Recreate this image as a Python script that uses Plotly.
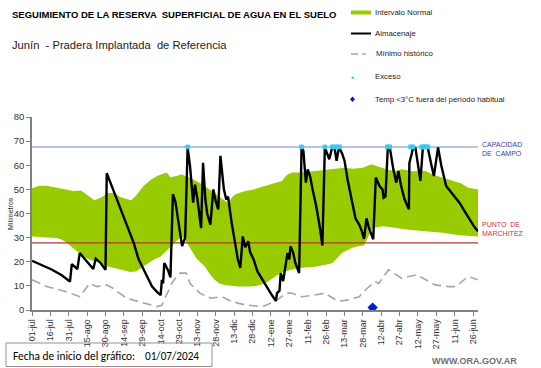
import plotly.graph_objects as go

# ---------------- DATA ----------------
tick_days = [0, 15, 30, 45, 60, 75, 90, 105, 120, 135, 150, 165, 180, 195, 210, 225,
             240, 255, 270, 285, 300, 315, 330, 345, 360]
tick_labels = ["01-jul", "16-jul", "31-jul", "15-ago", "30-ago", "14-sep", "29-sep", "14-oct",
               "29-oct", "13-nov", "28-nov", "13-dic", "28-dic", "12-ene", "27-ene", "11-feb",
               "26-feb", "13-mar", "28-mar", "12-abr", "27-abr", "12-may", "27-may", "11-jun", "26-jun"]

band_upper_days = [0, 6, 12, 20, 28, 34, 40, 46, 51, 56, 62, 67, 72, 77, 81, 85, 91, 97, 103,
                   110, 113, 118, 122, 130, 136, 141, 146, 152, 156, 160, 163, 166, 174, 181,
                   190, 198, 204, 208, 212, 220, 231, 238, 245, 255, 262, 270, 277, 285, 291,
                   297, 302, 310, 321, 328, 335, 340, 345, 350, 356, 364]
band_upper_vals = [50.5, 51.5, 51.5, 50.8, 50.0, 49.3, 49.5, 47.5, 45.5, 46.5, 48.5, 48.5, 46.8,
                   46.0, 45.5, 47.5, 51.4, 54.0, 55.8, 57.0, 55.0, 55.5, 56.3, 54.5, 53.0, 51.4,
                   49.5, 47.2, 46.0, 44.4, 46.5, 48.0, 49.3, 50.0, 51.4, 52.5, 53.5, 56.0, 57.0,
                   57.0, 57.6, 58.0, 58.3, 59.0, 58.5, 59.0, 60.4, 59.0, 58.0, 57.6, 58.3, 57.5,
                   57.6, 56.0, 54.9, 54.0, 53.5, 52.5, 50.7, 50.0]
band_lower_days = [0, 10, 20, 24, 28, 32, 36, 40, 46, 51, 56, 62, 68, 73, 80, 85, 89, 95, 100,
                   105, 109, 113, 118, 122, 125, 127, 131, 134, 141, 145, 149, 153, 157, 168,
                   177, 183, 190, 196, 203, 210, 218, 231, 238, 245, 249, 253, 261, 266, 271,
                   274, 278, 287, 297, 307, 321, 335, 349, 364]
band_lower_vals = [30.5, 30.2, 29.8, 29.2, 28.0, 26.4, 24.5, 22.9, 21.0, 20.1, 19.5, 18.0, 17.4,
                   16.7, 15.8, 16.0, 17.4, 19.5, 21.0, 22.2, 24.0, 26.4, 28.5, 30.5, 29.0, 27.0,
                   24.0, 21.5, 18.0, 15.0, 12.5, 11.0, 10.4, 9.7, 9.7, 10.0, 11.0, 13.0, 15.3,
                   16.5, 17.4, 17.9, 18.5, 19.4, 21.5, 23.6, 25.7, 26.4, 26.7, 30.0, 34.0, 34.7,
                   34.0, 33.3, 32.6, 32.0, 31.0, 30.5]

alm_days = [0, 8, 16, 24, 31, 32.5, 35, 37, 39, 44, 48, 50, 52, 56, 60, 61, 64, 70, 75, 79, 83,
            87, 91, 95, 98, 102, 105, 106, 107, 108, 111, 113, 115, 117, 120, 122.5, 125, 127,
            129, 131.5, 133, 135, 138, 139.6, 141.5, 143, 145.6, 148, 150, 152, 153.8, 156.6,
            158.5, 160, 163, 166, 168, 170, 172, 174, 176.5, 178, 181, 184, 188, 192, 196, 199,
            200, 202, 203, 205, 206.5, 208.5, 210, 211, 213, 215, 218, 220, 221.5, 223.5, 225,
            227, 229, 232, 235, 237, 239, 242.6, 245, 247, 248.6, 250.5, 253, 255, 257.6, 261.7,
            264, 267, 269, 271, 273, 275, 278.5, 280.6, 283.6, 286, 287, 288.5, 290.4, 292, 295,
            297.3, 299, 301, 304, 307.6, 308, 310, 311, 313, 317, 319, 323, 326, 328, 331.4, 334,
            338, 343, 349, 353, 357, 361, 364]
alm_vals = [20.4, 18.5, 16.8, 14.5, 11.8, 19.0, 17.8, 17.0, 23.6, 20.5, 18.2, 17.0, 21.3, 19.5,
            16.7, 56.7, 52.8, 45.0, 38.9, 33.5, 27.8, 21.0, 16.7, 12.5, 9.7, 7.5, 6.2, 12.5, 11.0,
            19.5, 16.5, 13.5, 48.0, 45.0, 35.0, 26.5, 30.0, 67.4, 59.5, 44.5, 52.0, 46.0, 34.0,
            61.0, 45.8, 40.0, 35.4, 50.0, 45.0, 41.7, 63.9, 50.0, 45.8, 47.0, 36.0, 26.4, 21.0,
            17.4, 30.5, 26.0, 28.5, 24.0, 20.8, 16.0, 12.5, 9.0, 6.0, 3.75, 7.0, 8.0, 15.3, 12.0,
            17.4, 23.6, 21.0, 26.4, 24.0, 19.4, 15.3, 67.4, 66.0, 52.8, 58.3, 55.3, 50.0, 43.0,
            34.0, 26.7, 67.4, 62.5, 67.4, 67.0, 61.8, 67.4, 65.0, 62.0, 54.0, 43.0, 38.0, 35.4,
            33.0, 29.5, 38.0, 34.0, 29.3, 54.9, 51.4, 50.0, 46.5, 47.0, 67.4, 67.4, 58.0, 52.8,
            57.6, 52.0, 46.0, 41.7, 61.0, 65.0, 67.4, 67.0, 53.5, 67.4, 67.4, 60.0, 55.5, 67.4,
            60.0, 51.4, 48.0, 44.4, 41.0, 37.5, 34.5, 32.6]

min_days = [0, 12, 28, 39, 47, 53, 61, 66, 77, 91, 102, 106, 110, 114, 118, 121, 126, 129,
            137, 146, 155, 163, 174, 181, 188, 198, 208, 212, 220, 231, 239, 250, 258, 267, 272,
            280, 283, 291, 301.5, 314, 329, 340, 346, 356, 364]
min_vals = [12.5, 9.7, 7.6, 5.5, 11.0, 9.7, 10.4, 9.0, 4.9, 2.8, 1.4, 2.0, 6.5, 11.0, 13.9,
            15.3, 15.3, 11.0, 7.0, 4.9, 5.5, 3.5, 2.1, 1.7, 1.4, 3.5, 7.0, 7.0, 5.5, 6.2, 7.0,
            3.5, 4.2, 5.5, 8.3, 11.8, 11.0, 16.7, 13.2, 14.6, 10.4, 9.7, 9.7, 13.9, 12.5]

exceso_days = [127, 220, 239, 245, 246, 248, 250, 251, 290, 291, 292, 309, 310, 311,
               318, 319, 320, 321, 322, 323]
capacidad_campo = 67.6
punto_marchitez = 27.8
temp_days = [278]
temp_vals = [1.0]

# ---------------- GEOMETRY HELPERS ----------------
W, H = 541, 368
L, R, T, B = 32, 63, 117, 58
PW, PH = W - L - R, H - T - B


def px(x):
    return (x - L) / PW


def py(y):
    return (H - B - y) / PH


FONT = "Liberation Sans, Arial, sans-serif"
NARROW = "Carlito, Calibri, Liberation Sans Narrow, Arial Narrow, sans-serif"
GREEN = "#99CC00"

fig = go.Figure()

# Normal interval band
fig.add_trace(go.Scatter(
    x=band_upper_days + band_lower_days[::-1],
    y=band_upper_vals + band_lower_vals[::-1],
    fill="toself", fillcolor=GREEN, line=dict(width=0), mode="lines", hoverinfo="skip"))

# Minimum historic
fig.add_trace(go.Scatter(x=min_days, y=min_vals, mode="lines",
                         line=dict(color="#A6A6A6", width=1.6, dash="9px,5px")))

# Reference lines
fig.add_trace(go.Scatter(x=[0, 364], y=[capacidad_campo] * 2, mode="lines",
                         line=dict(color="#9FB3D1", width=1.5)))
fig.add_trace(go.Scatter(x=[0, 364], y=[punto_marchitez] * 2, mode="lines",
                         line=dict(color="#B8352F", width=1.2)))

# Almacenaje
fig.add_trace(go.Scatter(x=alm_days, y=alm_vals, mode="lines",
                         line=dict(color="#000000", width=2.4)))

# Exceso
fig.add_trace(go.Scatter(x=exceso_days, y=[capacidad_campo] * len(exceso_days), mode="markers",
                         marker=dict(color="#33CCEE", size=4.5, symbol="square")))

# Temp
fig.add_trace(go.Scatter(x=temp_days, y=temp_vals, mode="markers",
                         marker=dict(color="#0020CC", size=8, symbol="diamond")))

annotations = []
shapes = []


def text(x, y, s, size, color="#000000", bold=False, anchor="left", family=FONT, angle=0):
    annotations.append(dict(
        x=px(x), y=py(y), xref="paper", yref="paper", text=("<b>%s</b>" % s) if bold else s,
        showarrow=False, xanchor=anchor, yanchor="middle", textangle=angle,
        font=dict(size=size, color=color, family=family)))


text(10, 14, "SEGUIMIENTO DE LA RESERVA  SUPERFICIAL DE AGUA EN EL SUELO", 9.5, bold=True)
text(10, 45, "Junín  - Pradera Implantada  de Referencia", 11.2, color="#222222")

# Legend
shapes.append(dict(type="rect", xref="paper", yref="paper", x0=px(351), x1=px(371),
                   y0=py(10.5), y1=py(14.5), fillcolor=GREEN, line=dict(width=0)))
shapes.append(dict(type="line", xref="paper", yref="paper", x0=px(351), x1=px(371),
                   y0=py(33.5), y1=py(33.5), line=dict(color="#000000", width=2)))
shapes.append(dict(type="line", xref="paper", yref="paper", x0=px(351), x1=px(358),
                   y0=py(54), y1=py(54), line=dict(color="#A6A6A6", width=1.5)))
shapes.append(dict(type="line", xref="paper", yref="paper", x0=px(362), x1=px(366),
                   y0=py(54), y1=py(54), line=dict(color="#A6A6A6", width=1.5)))
shapes.append(dict(type="circle", xref="paper", yref="paper", x0=px(351.5), x1=px(354),
                   y0=py(76.5), y1=py(79), fillcolor="#33CCEE", line=dict(width=0)))
shapes.append(dict(type="path", xref="paper", yref="paper",
                   path="M %f %f L %f %f L %f %f L %f %f Z" % (
                       px(352.5), py(96.5), px(355), py(99.3), px(352.5), py(102), px(350), py(99.3)),
                   fillcolor="#0020CC", line=dict(width=0)))
leg_items = [(12.5, "Intervalo Normal"), (33.5, "Almacenaje"), (54, "Mínimo histórico"),
             (77, "Exceso"), (99.5, "Temp <3°C fuera del período habitual")]
for yy, s in leg_items:
    text(373 if not s.startswith("Mín") else 374, yy, s, 7.8, color="#222222")

# Right-side labels
text(480, 144, "CAPACIDAD", 7, color="#3C3CA8")
text(480, 153.5, "DE  CAMPO", 7, color="#3C3CA8")
text(480, 224.5, "PUNTO  DE", 7, color="#C8334A")
text(480, 233.5, "MARCHITEZ", 7, color="#C8334A")

# Y title
text(10, 214, "Milímetros", 7, color="#222222", anchor="center", angle=-90)

# Bottom box
shapes.append(dict(type="rect", xref="paper", yref="paper", x0=px(6), x1=px(212),
                   y0=py(343), y1=py(366.5), line=dict(color="#A08C8C", width=1),
                   fillcolor="rgba(0,0,0,0)"))
text(11, 356, "Fecha de inicio del gráfico:", 11.4, color="#000000", family=NARROW)
text(143, 356, "01/07/2024", 11.2, color="#000000", family=NARROW)

text(519, 360.5, "WWW.ORA.GOV.AR", 9, color="#707070", bold=True, anchor="right")

fig.update_layout(
    width=W, height=H, margin=dict(l=L, r=R, t=T, b=B, pad=0),
    paper_bgcolor="white", plot_bgcolor="white", showlegend=False,
    annotations=annotations, shapes=shapes,
    xaxis=dict(range=[0, 364], tickmode="array", tickvals=tick_days, ticktext=tick_labels,
               tickangle=-90, ticks="outside", ticklen=4, tickcolor="#808080",
               showline=True, linecolor="#808080", linewidth=1.5, showgrid=False, zeroline=False,
               tickfont=dict(size=9, color="#333333", family=FONT)),
    yaxis=dict(range=[0, 80], tickvals=[0, 10, 20, 30, 40, 50, 60, 70, 80], ticks="outside",
               ticklen=4, tickcolor="#808080", showline=True, linecolor="#808080", linewidth=1.5,
               showgrid=False, zeroline=False,
               tickfont=dict(size=9.5, color="#333333", family=FONT)),
)

fig.write_html("out.html", config={"displayModeBar": False},
               post_script="document.body.style.margin='0px';document.body.style.overflow='hidden';")
